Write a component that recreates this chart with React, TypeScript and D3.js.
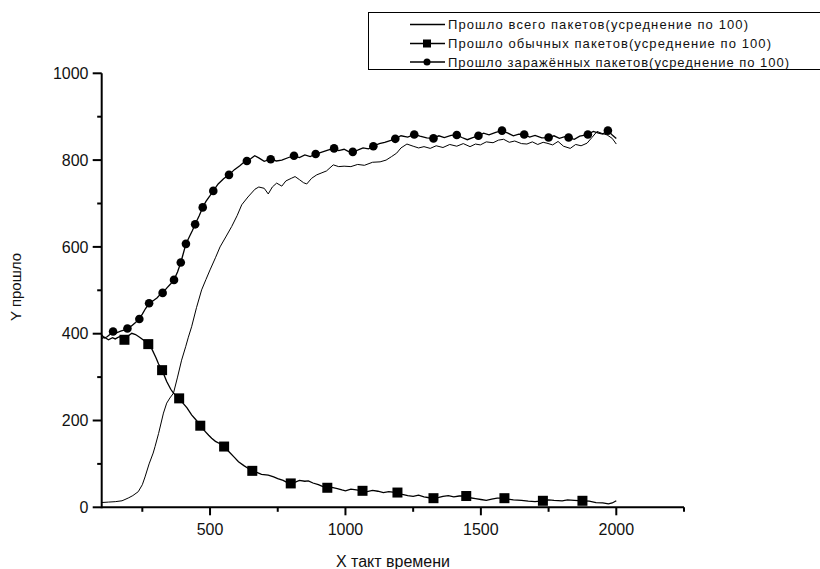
import React from "react";
import * as d3 from "d3";

// ---- data ----
const xMajorTicks = [500, 1000, 1500, 2000];
const xMinorTicks = [250, 750, 1250, 1750, 2250];
const yMajorTicks = [0, 200, 400, 600, 800, 1000];
const yMinorTicks = [100, 300, 500, 700, 900];

const legendLabels = [
  "Прошло всего пакетов(усреднение по 100)",
  "Прошло обычных пакетов(усреднение по 100)",
  "Прошло заражённых пакетов(усреднение по 100)",
];

// total packets (plain line)
const totalPoints: [number, number][] = [
  [100, 11], [125, 12], [150, 13], [175, 15], [186, 18], [200, 22], [215, 27], [235, 36],
  [250, 52], [260, 70], [275, 100], [290, 125], [297, 140], [310, 170], [328, 217], [340, 240],
  [352, 252], [365, 263], [380, 300], [395, 339], [410, 370], [420, 392], [432, 416], [450, 460],
  [469, 501], [485, 525], [500, 547], [520, 575], [537, 600], [560, 625], [580, 647], [600, 672],
  [617, 697], [640, 715], [666, 733], [680, 738], [700, 735], [715, 722], [730, 738], [746, 747],
  [765, 740], [780, 752], [800, 758], [814, 762], [830, 755], [845, 748], [857, 745], [875, 758],
  [894, 766], [910, 770], [930, 775], [955, 789], [975, 785], [995, 786], [1020, 785], [1045, 790],
  [1070, 788], [1100, 795], [1128, 796], [1150, 800], [1170, 808], [1189, 816], [1205, 828], [1227, 837],
  [1250, 832], [1270, 828], [1290, 831], [1313, 827], [1335, 833], [1360, 829], [1385, 836], [1411, 832],
  [1435, 838], [1460, 831], [1480, 837], [1498, 835], [1520, 842], [1545, 840], [1565, 846], [1584, 848],
  [1605, 841], [1625, 844], [1650, 838], [1670, 837], [1690, 842], [1710, 836], [1730, 841], [1744, 839],
  [1765, 835], [1785, 843], [1805, 832], [1830, 827], [1850, 836], [1870, 833], [1892, 839], [1910, 852],
  [1929, 866], [1945, 862], [1966, 858], [1985, 850], [2000, 837],
];

// ordinary packets (squares)
const ordinaryPoints: [number, number][] = [
  [100, 389], [110, 392], [125, 386], [140, 391], [150, 388], [165, 393], [184, 386], [200, 396],
  [211, 401], [225, 398], [240, 392], [255, 385], [272, 376], [285, 365], [300, 345], [310, 330],
  [323, 316], [340, 290], [355, 272], [365, 263], [386, 251], [400, 240], [415, 229], [432, 213],
  [450, 200], [464, 188], [480, 176], [495, 166], [506, 159], [520, 152], [535, 147], [552, 140],
  [570, 128], [590, 115], [605, 105], [625, 96], [640, 90], [656, 84], [675, 80], [690, 76],
  [715, 74], [735, 70], [750, 66], [770, 62], [785, 57], [798, 55], [815, 58], [830, 62],
  [850, 60], [863, 61], [880, 56], [900, 52], [915, 48], [933, 45], [950, 46], [970, 43],
  [987, 40], [1000, 38], [1020, 42], [1040, 40], [1063, 38], [1080, 36], [1100, 39], [1120, 37],
  [1140, 34], [1160, 36], [1175, 35], [1192, 34], [1210, 30], [1230, 27], [1250, 25], [1270, 28],
  [1290, 24], [1310, 22], [1325, 21], [1345, 23], [1360, 25], [1380, 27], [1400, 24], [1420, 26],
  [1446, 26], [1460, 22], [1480, 20], [1500, 18], [1520, 16], [1540, 19], [1560, 21], [1587, 21],
  [1600, 19], [1620, 17], [1650, 16], [1675, 14], [1700, 13], [1729, 15], [1750, 17], [1770, 16],
  [1800, 15], [1820, 17], [1845, 16], [1875, 15], [1900, 14], [1925, 11], [1950, 10], [1971, 8],
  [1985, 10], [2000, 15],
];
const ordinaryMarkerX = [184, 272, 323, 386, 464, 552, 656, 798, 933, 1063, 1192, 1325, 1446, 1587, 1729, 1875];

// infected packets (circles)
const infectedPoints: [number, number][] = [
  [100, 397], [110, 390], [120, 393], [130, 398], [142, 405], [155, 402], [170, 406], [185, 409],
  [195, 412], [210, 418], [225, 426], [239, 434], [250, 445], [262, 458], [275, 470], [290, 476],
  [305, 483], [315, 490], [325, 494], [340, 505], [355, 515], [367, 524], [380, 542], [392, 564],
  [400, 582], [411, 607], [425, 625], [435, 638], [445, 652], [460, 672], [473, 691], [485, 705],
  [500, 718], [512, 729], [530, 745], [550, 757], [570, 766], [590, 778], [610, 787], [625, 795],
  [636, 798], [650, 803], [665, 810], [680, 805], [700, 797], [724, 802], [745, 798], [765, 800],
  [790, 806], [810, 810], [830, 806], [850, 812], [870, 808], [890, 814], [910, 818], [935, 823],
  [958, 827], [975, 822], [995, 825], [1010, 820], [1027, 819], [1045, 823], [1065, 828], [1085, 826],
  [1103, 832], [1125, 838], [1145, 841], [1165, 845], [1184, 849], [1205, 856], [1230, 853], [1254, 859],
  [1275, 855], [1300, 851], [1325, 850], [1345, 856], [1365, 852], [1390, 857], [1411, 858], [1430, 852],
  [1450, 847], [1470, 852], [1491, 856], [1510, 862], [1530, 858], [1555, 864], [1578, 868], [1600, 862],
  [1620, 856], [1640, 860], [1660, 859], [1680, 853], [1700, 857], [1725, 851], [1750, 852], [1770, 856],
  [1790, 850], [1810, 854], [1824, 852], [1845, 848], [1865, 855], [1880, 857], [1895, 859], [1915, 866],
  [1935, 862], [1950, 860], [1969, 868], [1985, 858], [2000, 850],
];
const infectedMarkerX = [142, 195, 239, 275, 325, 367, 392, 411, 445, 473, 512, 570, 636, 724, 810, 890, 958, 1027, 1103, 1184, 1254, 1325, 1411, 1491, 1578, 1660, 1750, 1824, 1895, 1969];

const width = 820;
const height = 569;
const font = "'Liberation Sans', Arial, sans-serif";

export default function App() {
  const x = d3.scaleLinear().domain([100, 2250]).range([101.7, 684]);
  const y = d3.scaleLinear().domain([0, 1000]).range([507.3, 73.3]);
  const x0 = x.range()[0];
  const y0 = y.range()[0];

  const line = d3.line<[number, number]>()
    .x((d) => x(d[0]))
    .y((d) => y(d[1]));

  const ordinaryMarks = ordinaryPoints.filter((d) => ordinaryMarkerX.includes(d[0]));
  const infectedMarks = infectedPoints.filter((d) => infectedMarkerX.includes(d[0]));

  const legendRows = [24.5, 43.5, 62];
  const legendTextLen = [300, 323, 341];

  return (
    <div style={{ position: "absolute", left: 0, top: 0 }}>
      <svg width={width} height={height} style={{ display: "block", background: "#fff" }}>
        {/* series */}
        <path d={line(totalPoints) ?? ""} fill="none" stroke="#000" strokeWidth={1} />
        <path d={line(ordinaryPoints) ?? ""} fill="none" stroke="#000" strokeWidth={1.3} />
        <path d={line(infectedPoints) ?? ""} fill="none" stroke="#000" strokeWidth={1.3} />
        {ordinaryMarks.map((d, i) => (
          <rect key={"s" + i} x={x(d[0]) - 5} y={y(d[1]) - 5} width={10} height={10} fill="#000" />
        ))}
        {infectedMarks.map((d, i) => (
          <circle key={"c" + i} cx={x(d[0])} cy={y(d[1])} r={4.3} fill="#000" />
        ))}

        {/* axes */}
        <line x1={x0} x2={x.range()[1]} y1={y0} y2={y0} stroke="#000" strokeWidth={2} />
        <line x1={x0} x2={x0} y1={y0 + 1} y2={y.range()[1]} stroke="#000" strokeWidth={2} />
        {xMajorTicks.map((t) => (
          <g key={"xm" + t}>
            <line x1={x(t)} x2={x(t)} y1={y0} y2={y0 + 8} stroke="#000" strokeWidth={2} />
            <text x={x(t)} y={535} textAnchor="middle" fontFamily={font} fontSize={16} fill="#111">{t}</text>
          </g>
        ))}
        {xMinorTicks.map((t) => (
          <line key={"xn" + t} x1={x(t)} x2={x(t)} y1={y0} y2={y0 + 4.5} stroke="#000" strokeWidth={2} />
        ))}
        {yMajorTicks.map((t) => (
          <g key={"ym" + t}>
            <line x1={x0 - 9} x2={x0} y1={y(t)} y2={y(t)} stroke="#000" strokeWidth={2} />
            <text x={88.5} y={y(t)} dy="0.36em" textAnchor="end" fontFamily={font} fontSize={16} fill="#111">{t}</text>
          </g>
        ))}
        {yMinorTicks.map((t) => (
          <line key={"yn" + t} x1={x0 - 4.5} x2={x0} y1={y(t)} y2={y(t)} stroke="#000" strokeWidth={2} />
        ))}

        {/* axis titles */}
        <text x={393} y={567} textAnchor="middle" fontFamily={font} fontSize={16} fill="#111">X такт времени</text>
        <text transform="translate(21,287) rotate(-90)" textAnchor="middle" fontFamily={font} fontSize={15} fill="#111">Y прошло</text>

        {/* legend */}
        <rect x={368.5} y={12.5} width={460} height={57} fill="#fff" stroke="#000" strokeWidth={1} />
        {legendLabels.map((label, i) => (
          <g key={"lg" + i}>
            <line x1={410} x2={445} y1={legendRows[i]} y2={legendRows[i]} stroke="#000" strokeWidth={1.3} />
            {i === 1 && <rect x={423} y={legendRows[i] - 4} width={8} height={8} fill="#000" />}
            {i === 2 && <circle cx={427} cy={legendRows[i]} r={3.5} fill="#000" />}
            <text x={448} y={legendRows[i]} dy="0.36em" fontFamily={font} fontSize={13} fill="#111"
              textLength={legendTextLen[i]} lengthAdjust="spacing">{label}</text>
          </g>
        ))}
      </svg>
    </div>
  );
}
